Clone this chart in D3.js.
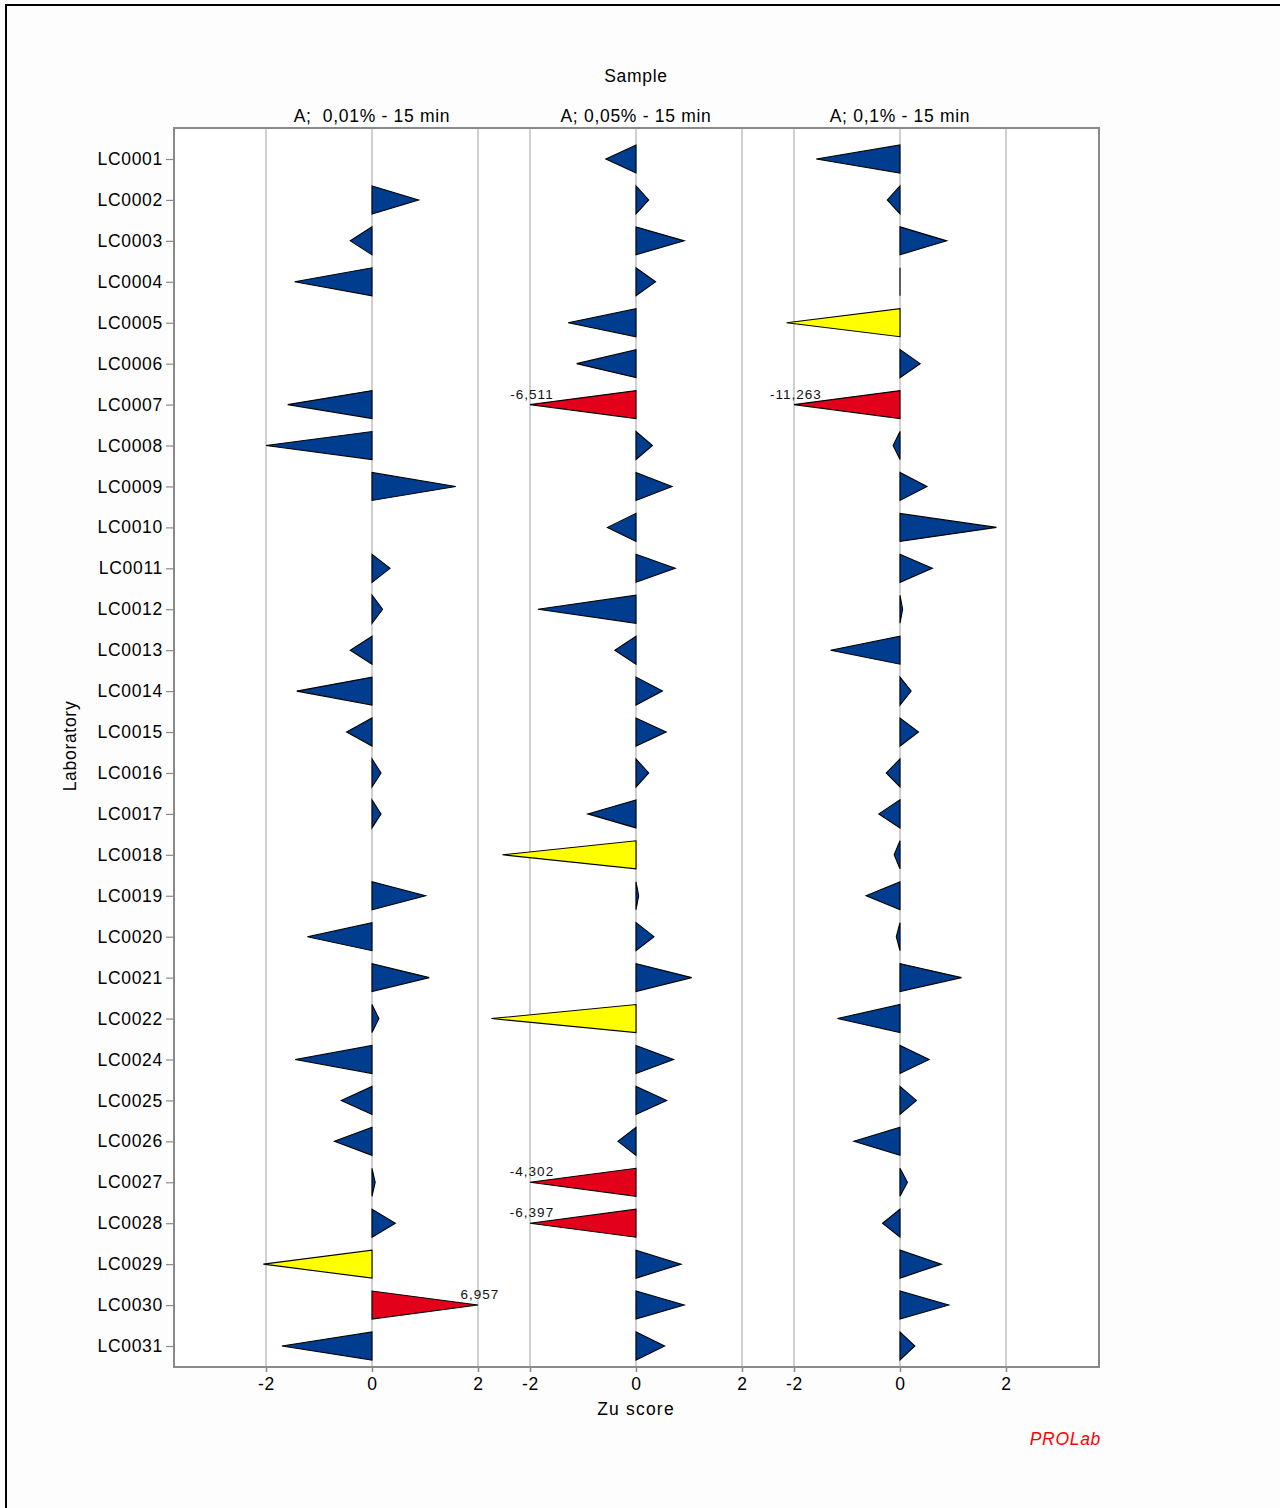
<!DOCTYPE html>
<html><head><meta charset="utf-8">
<script src="https://cdn.jsdelivr.net/npm/d3@7/dist/d3.min.js"></script>
<style>body{margin:0;background:#fff}svg{display:block;font-family:"Liberation Sans",Arial,sans-serif}</style>
</head><body>
<svg id="c" width="1280" height="1508"></svg>
<script>
// ---- data ----
const labs = ["LC0001","LC0002","LC0003","LC0004","LC0005","LC0006","LC0007","LC0008","LC0009","LC0010",
  "LC0011","LC0012","LC0013","LC0014","LC0015","LC0016","LC0017","LC0018","LC0019","LC0020",
  "LC0021","LC0022","LC0024","LC0025","LC0026","LC0027","LC0028","LC0029","LC0030","LC0031"];
const samples = ["A;  0,01% - 15 min", "A; 0,05% - 15 min", "A; 0,1% - 15 min"];
const zA001 = [null, 0.88, -0.41, -1.46, null, null, -1.59, -2.0, 1.58, null,
  0.34, 0.20, -0.41, -1.42, -0.48, 0.17, 0.17, null, 1.01, -1.22,
  1.08, 0.13, -1.45, -0.58, -0.71, 0.06, 0.44, -2.05, 6.957, -1.70];
const zA005 = [-0.57, 0.24, 0.91, 0.37, -1.28, -1.12, -6.511, 0.31, 0.68, -0.54,
  0.74, -1.85, -0.40, 0.50, 0.57, 0.24, -0.91, -2.52, 0.05, 0.34,
  1.05, -2.73, 0.71, 0.58, -0.34, -4.302, -6.397, 0.85, 0.91, 0.54];
const zA01 = [-1.58, -0.24, 0.88, 0.0, -2.14, 0.38, -11.263, -0.13, 0.51, 1.82,
  0.61, 0.05, -1.31, 0.21, 0.35, -0.26, -0.40, -0.11, -0.64, -0.07,
  1.16, -1.18, 0.55, 0.31, -0.87, 0.14, -0.33, 0.78, 0.92, 0.28];
const xTicks = [-2, 0, 2];
const seriesValues = [zA001, zA005, zA01];

// ---- layout ----
const svg = d3.select("#c");
const plot = {l: 174, t: 128, r: 1099, b: 1367};
const FS = 17.5, LS = 0.7;

svg.append("rect").attr("x",0).attr("y",0).attr("width",1280).attr("height",1508).attr("fill","#fdfdfd");
svg.append("rect").attr("x",6).attr("y",5).attr("width",1400).attr("height",1600)
  .attr("fill","none").attr("stroke","#000").attr("stroke-width",2);
svg.append("rect").attr("x",plot.l).attr("y",plot.t).attr("width",plot.r-plot.l).attr("height",plot.b-plot.t)
  .attr("fill","#fff");

const panelX = d3.scalePoint().domain(samples).range([372, 900]);
const half = 106;
const xs = samples.map(s => d3.scaleLinear().domain([-2, 2]).range([panelX(s) - half, panelX(s) + half]));
const y = d3.scalePoint().domain(labs).range([159, 1346]);

// gridlines
samples.forEach((s, i) => {
  svg.append("g").selectAll("line").data(xTicks).join("line")
    .attr("x1", d => xs[i](d)).attr("x2", d => xs[i](d))
    .attr("y1", plot.t).attr("y2", plot.b)
    .attr("stroke", "#c4c4c4").attr("stroke-width", 1.6);
});

// triangles
const colorOf = v => Math.abs(v) > 3 ? "#e2001a" : (Math.abs(v) > 2 ? "#ffff00" : "#003d8f");
const fmt = v => v.toFixed(3).replace(".", ",");
const hh = 14;
samples.forEach((s, i) => {
  const data = labs.map((lab, j) => ({lab, v: seriesValues[i][j]})).filter(d => d.v !== null);
  const g = svg.append("g");
  g.selectAll("path").data(data).join("path")
    .attr("d", d => {
      const x0 = xs[i](0);
      const vv = Math.abs(d.v) > 3 ? Math.sign(d.v) * 2 : d.v;
      const xt = xs[i](vv);
      const yc = y(d.lab);
      return `M${x0},${yc - hh}L${x0},${yc + hh}L${xt},${yc}Z`;
    })
    .attr("fill", d => colorOf(d.v)).attr("stroke", "#000").attr("stroke-width", 1.1)
    .attr("stroke-linejoin", "miter");
  g.selectAll("text").data(data.filter(d => Math.abs(d.v) > 3)).join("text")
    .attr("x", d => xs[i](Math.sign(d.v) * 2) + 2)
    .attr("y", d => y(d.lab) - 6)
    .attr("text-anchor", "middle").attr("font-size", 13.5).attr("letter-spacing", 1)
    .attr("fill", "#111").text(d => fmt(d.v));
});

// plot frame
svg.append("rect").attr("x",plot.l).attr("y",plot.t).attr("width",plot.r-plot.l).attr("height",plot.b-plot.t)
  .attr("fill","none").attr("stroke","#8a8a8a").attr("stroke-width",2);

// x axes
samples.forEach((s, i) => {
  const ax = svg.append("g").attr("transform", `translate(0,${plot.b})`)
    .call(d3.axisBottom(xs[i]).tickValues(xTicks).tickSize(5).tickPadding(6).tickFormat(d => String(d)));
  ax.select(".domain").remove();
  ax.selectAll("line").attr("stroke", "#8a8a8a").attr("stroke-width", 1.5);
  ax.selectAll("text").attr("font-size", FS).attr("font-family", "Liberation Sans, Arial, sans-serif")
    .attr("letter-spacing", LS).attr("fill", "#000");
});

// y axis
const ay = svg.append("g").attr("transform", `translate(${plot.l},0)`)
  .call(d3.axisLeft(y).tickSize(8).tickPadding(3));
ay.select(".domain").remove();
ay.selectAll("line").attr("stroke", "#8a8a8a").attr("stroke-width", 1.2);
ay.selectAll("text").attr("font-size", FS).attr("font-family", "Liberation Sans, Arial, sans-serif")
  .attr("letter-spacing", LS).attr("fill", "#000");

// titles
svg.append("text").attr("x", 636).attr("y", 82).attr("text-anchor", "middle").attr("font-size", FS)
  .attr("letter-spacing", LS).text("Sample");
svg.selectAll("text.pt").data(samples).join("text").attr("class","pt")
  .attr("x", d => panelX(d)).attr("y", 122).attr("text-anchor", "middle").attr("font-size", FS)
  .attr("letter-spacing", LS).style("white-space", "pre").text(d => d);
svg.append("text").attr("x", 636).attr("y", 1415).attr("text-anchor", "middle").attr("font-size", FS)
  .attr("letter-spacing", 1.2).text("Zu score");
svg.append("text").attr("transform", "translate(76,746) rotate(-90)").attr("text-anchor", "middle")
  .attr("font-size", FS).attr("letter-spacing", LS).text("Laboratory");
svg.append("text").attr("x", 1101).attr("y", 1445).attr("text-anchor", "end").attr("font-size", FS)
  .attr("letter-spacing", LS).attr("font-style", "italic").attr("fill", "#ff0000").text("PROLab");
</script>
</body></html>
